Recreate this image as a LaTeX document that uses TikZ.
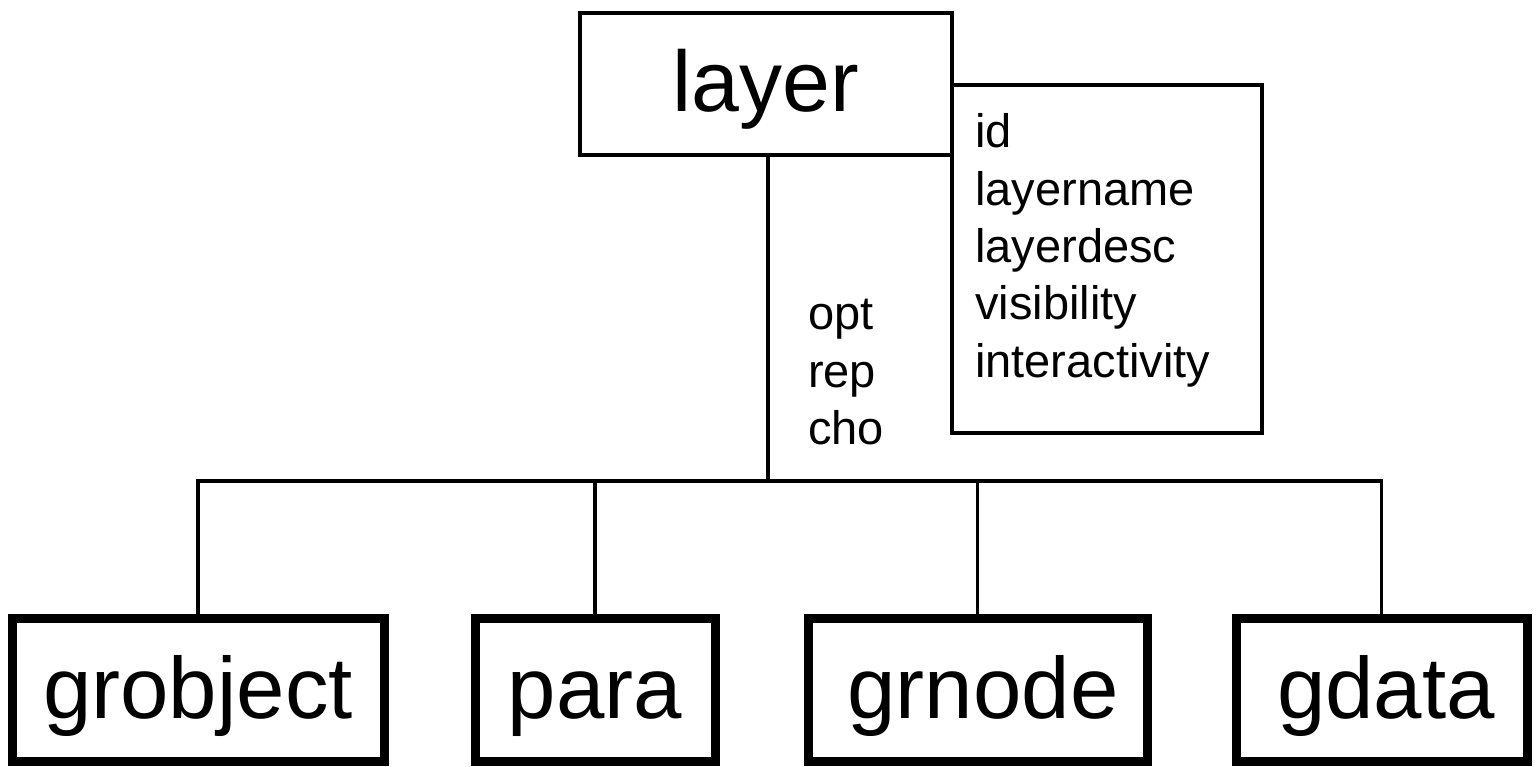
\documentclass[tikz,border=0pt]{standalone}
\usepackage{fontspec}
\setmainfont{Liberation Sans}
\tikzset{
  thinbox/.style={draw, line width=3.5pt, inner sep=0pt},
  kidbox/.style={draw, line width=9pt, inner sep=0pt, minimum height=143pt,
    font=\fontsize{87}{100}\selectfont, text height=70pt, text depth=13pt},
  conn/.style={line width=3.5pt},
  attrtext/.style={anchor=base west, inner sep=0pt, font=\fontsize{47}{57.3}\selectfont},
}
\begin{document}
\begin{tikzpicture}[x=1pt,y=-1pt]
\useasboundingbox (0,0) rectangle (1539,767);
% parent and attribute box
\node[thinbox, minimum width=372pt, minimum height=142pt,
      font=\fontsize{86}{100}\selectfont, text height=70pt, text depth=14pt]
      (layer) at (766,84) {layer};
\node[thinbox, minimum width=310pt, minimum height=348pt] (attr) at (1107,259) {};
\node[attrtext] (attrlist) at (975,148)
  {\begin{tabular}[t]{@{}l@{}}id\\layername\\layerdesc\\visibility\\interactivity\end{tabular}};
\node[attrtext] (mods) at (808,330)
  {\begin{tabular}[t]{@{}l@{}}opt\\rep\\cho\end{tabular}};
% children
\node[kidbox, minimum width=372pt] (grobject) at (198,689.5) {grobject};
\node[kidbox, minimum width=240pt] (para) at (595,689.5) {para};
\node[kidbox, minimum width=339pt] (grnode) at (977.5,689.5) {\hspace*{11pt}grnode};
\node[kidbox, minimum width=291pt] (gdata) at (1381.5,689.5) {\hspace*{9pt}gdata};
% connectors
\coordinate (j) at (768,481);
\draw[conn] (layer.south -| j) -- (j);
\draw[conn] (grobject.north) -- (grobject.north |- j) -- (gdata.north |- j) -- (gdata.north);
\draw[conn] (para.north) -- (para.north |- j);
\draw[conn] (grnode.north) -- (grnode.north |- j);
\end{tikzpicture}
\end{document}
